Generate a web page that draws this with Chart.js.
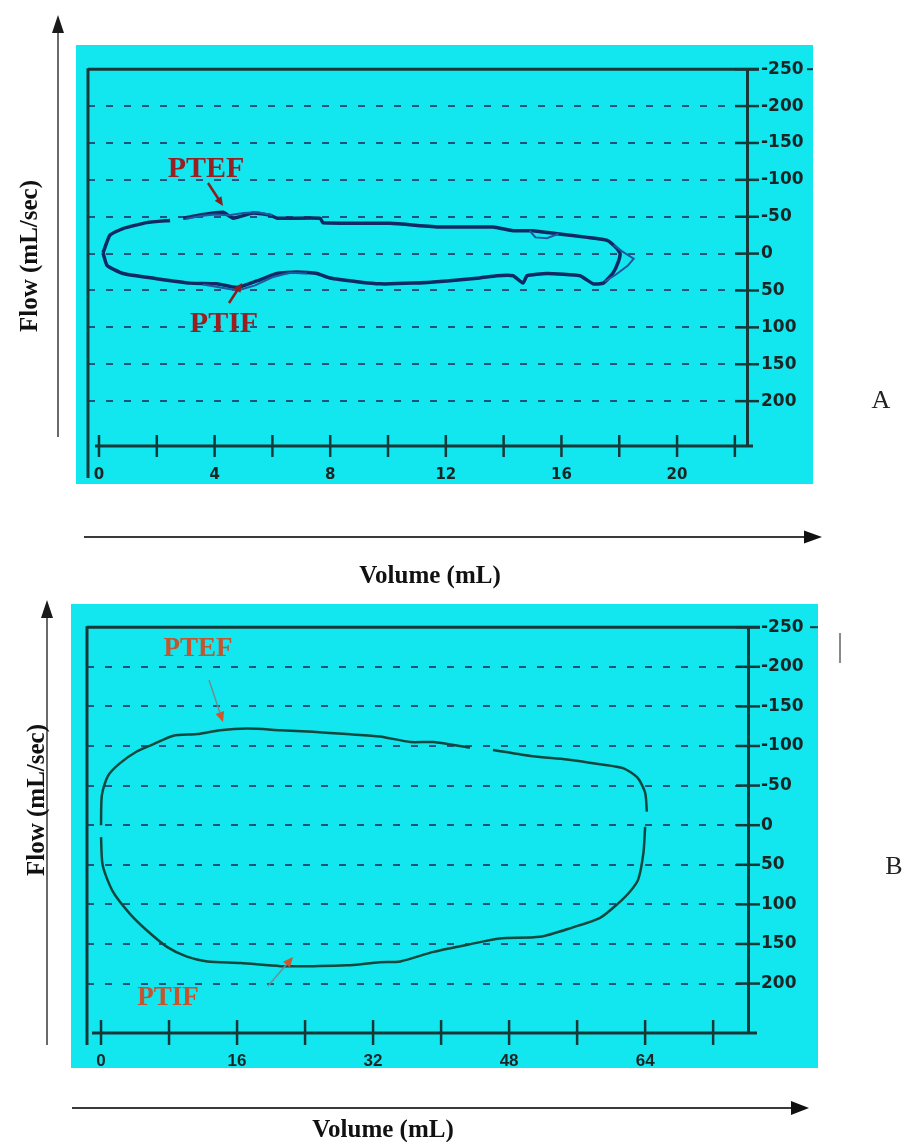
<!DOCTYPE html>
<html>
<head>
<meta charset="utf-8">
<script src="https://cdn.jsdelivr.net/npm/chart.js@4.4.0/dist/chart.umd.min.js"></script>
<style>
html,body{margin:0;padding:0;background:#ffffff;}
body{width:908px;height:1142px;position:relative;overflow:hidden;}
canvas{position:absolute;}
svg{position:absolute;left:0;top:0;}
.t{position:absolute;white-space:nowrap;font-family:'Liberation Serif','Times New Roman',serif;transform:translate(-50%,-50%);line-height:1;}
.title{font-weight:bold;font-size:25px;color:#111;}
.rot{transform:translate(-50%,-50%) rotate(-90deg);}
.annA{font-weight:bold;font-size:30px;color:#9a1f22;}
.annB{font-weight:bold;font-size:27px;color:#c4552f;}
.panel{font-size:26px;color:#222;}
</style>
</head>
<body>
<canvas id="cA" width="737" height="439" style="left:76px;top:45px;width:737px;height:439px"></canvas>
<canvas id="cB" width="747" height="464" style="left:71px;top:604px;width:747px;height:464px"></canvas>
<svg id="ov" width="908" height="1142"></svg>

<div class="t title rot" style="left:28px;top:256px">Flow (mL/sec)</div>
<div class="t title" style="left:430px;top:574px">Volume (mL)</div>
<div class="t title rot" style="left:35px;top:800px">Flow (mL/sec)</div>
<div class="t title" style="left:383px;top:1128px">Volume (mL)</div>

<div class="t annA" style="left:206px;top:167px">PTEF</div>
<div class="t annA" style="left:224px;top:322px">PTIF</div>
<div class="t annB" style="left:198px;top:647px">PTEF</div>
<div class="t annB" style="left:168px;top:996px">PTIF</div>

<div class="t panel" style="left:881px;top:400px">A</div>
<div class="t panel" style="left:894px;top:866px">B</div>

<script>
// ---------- DATA ----------
const flowTicks = [-250, -200, -150, -100, -50, 0, 50, 100, 150, 200];

const volumeTicksA = [0, 2, 4, 6, 8, 10, 12, 14, 16, 18, 20, 22];
const volumeLabelsA = [0, 4, 8, 12, 16, 20];
const volumeTicksB = [0, 8, 16, 24, 32, 40, 48, 56, 64, 72];
const volumeLabelsB = [0, 16, 32, 48, 64];

// Panel A: main tidal loop (expiration on top, shown as negative flow labels)
const loopAVolume = [0.14, 0.38, 0.83, 1.66, 2.46, null, 2.91, 3.6, 4.29, 4.64, 5.33, 5.92, 6.16, 7.65, 7.75, 10.07, 11.8, 13.63, 14.33, 15.0, 15.85, 16.9, 17.58, 17.92, 18.03, 17.96, 17.79, 17.45, 17.1, 16.64, 15.5, 14.81, 14.67, 14.33, 13.77, 13.18, 12.04, 10.87, 9.72, 8.93, 7.99, 7.54, 6.85, 6.16, 5.47, 4.78, 4.08, 3.15, 2.0, 0.83, 0.28, 0.14];
const loopAFlow   = [-1, -25, -34, -42, -45, null, -48, -53, -56, -48, -55, -52, -48, -48, -42, -41, -36, -36, -31, -31, -27, -22, -18, -7, 0, 12, 26, 40, 41, 30, 27, 30, 40, 30, 30, 33, 37, 40, 41, 38, 33, 27, 25, 27, 37, 46, 41, 40, 34, 27, 16, -1];

// Panel A: second (overlapping) breath trace segments
const traceA2Volume = [3.0, 3.5, 4.0, 4.5, 5.0, 5.5, 6.0, null, 3.6, 4.2, 4.8, 5.4, 6.0, 6.6, 7.2, null, 14.9, 15.1, 15.5, 15.9, null, 17.8, 18.1, 18.5, 18.3, 17.9, 17.5];
const traceA2Flow   = [-47, -51, -53, -52, -55, -56, -52, null, 42, 46, 50, 43, 32, 26, 27, null, -31, -22, -21, -27, null, -12, -3, 7, 16, 28, 38];

// Panel B: expiratory limb (left to right) and inspiratory limb (right to left)
const expBVolume = [0, 0.1, 0.8, 2.2, 4.2, 6.1, 8.5, 11.3, 14.0, 17.2, 21.1, 24.9, 28.9, 32.8, 36.4, 39.1, 43.4, null, 46.1, 50.8, 54.8, 58.7, 61.4, 63.1, 64.0, 64.2];
const expBFlow   = [0, -38, -62, -78, -93, -102, -113, -115, -120, -122, -120, -118, -115, -112, -105, -105, -98, null, -95, -87, -83, -77, -72, -60, -41, -17];
const inspBVolume = [64.0, 63.8, 63.2, 62.2, 60.7, 58.7, 55.5, 51.6, 46.9, 43.1, 39.1, 35.2, 32.8, 28.9, 24.9, 21.1, 16.4, 12.5, 10.1, 7.8, 5.4, 3.4, 1.4, 0.2, 0];
const inspBFlow   = [2, 35, 68, 84, 100, 117, 129, 141, 143, 151, 160, 172, 173, 177, 178, 178, 174, 172, 166, 154, 133, 112, 84, 51, 15];

// ---------- HELPERS ----------
function pts(xs, ys) {
  return xs.map((v, i) => (v === null || ys[i] === null) ? {x: null, y: null} : {x: v, y: ys[i]});
}
const CYAN = '#12e6ef';
const AXIS = '#173838';

const framePlugin = {
  id: 'frame',
  beforeDraw(chart, args, o) {
    const ctx = chart.ctx;
    ctx.save();
    ctx.fillStyle = CYAN;
    ctx.fillRect(0, 0, chart.width, chart.height);
    ctx.restore();
  },
  afterDraw(chart, args, o) {
    const {ctx, chartArea: a, scales: {x, y}} = chart;
    ctx.save();
    ctx.strokeStyle = AXIS;
    const ln = (x1, y1, x2, y2, w) => { ctx.lineWidth = w; ctx.beginPath(); ctx.moveTo(x1, y1); ctx.lineTo(x2, y2); ctx.stroke(); };
    ln(a.left, a.top - 1, a.left, a.bottom + o.leftExtra, 3);
    ln(a.left, a.top, a.right + o.topExtra, a.top, 3);
    ln(a.right + o.topTail0, a.top, a.right + o.topTail1, a.top, 2);
    ln(a.left + o.xStart, a.bottom, a.right + o.xEnd, a.bottom, 3);
    y.ticks.forEach(t => { const py = y.getPixelForValue(t.value); ln(a.right - o.yIn, py, a.right + o.yOut, py, 2.5); });
    x.ticks.forEach(t => { const px = x.getPixelForValue(t.value); ln(px, a.bottom - o.xUp, px, a.bottom + o.xDown, 2.5); });
    ctx.restore();
  }
};

function makeChart(id, cfg) {
  return new Chart(document.getElementById(id), {
    type: 'scatter',
    data: { datasets: cfg.datasets },
    plugins: [framePlugin],
    options: {
      responsive: false,
      animation: false,
      devicePixelRatio: 1,
      layout: { padding: cfg.padding },
      plugins: { legend: { display: false }, tooltip: { enabled: false }, frame: cfg.frame },
      elements: { point: { radius: 0 } },
      scales: {
        x: {
          type: 'linear', min: cfg.xMin, max: cfg.xMax,
          afterBuildTicks: s => { s.ticks = cfg.xTicks.map(v => ({value: v})); },
          afterFit: s => { s.height = cfg.xHeight; },
          grid: { display: false },
          border: { display: false },
          ticks: {
            autoSkip: false, maxRotation: 0, padding: cfg.xPad, color: '#1a2525',
            font: cfg.xFont,
            callback: v => cfg.xLabels.includes(v) ? String(v) : ''
          }
        },
        y: {
          type: 'linear', position: 'right', reverse: true, min: -250, max: cfg.yMax,
          afterBuildTicks: s => { s.ticks = flowTicks.map(v => ({value: v})); },
          afterFit: s => { s.width = cfg.yWidth; },
          grid: { drawTicks: false, color: '#21527c', lineWidth: 2 },
          border: { display: true, color: AXIS, width: 3, dash: [7, 11] },
          ticks: {
            padding: cfg.yPad, color: '#1a2525',
            font: { family: 'DejaVu Sans', weight: 'bold', size: 17 },
            callback: v => String(v)
          }
        }
      }
    }
  });
}

makeChart('cA', {
  padding: { left: 12, top: 23, right: 0, bottom: 0 },
  xMin: -0.38, xMax: 22.42, yMax: 260.8,
  xTicks: volumeTicksA, xLabels: volumeLabelsA, xHeight: 38, yWidth: 66,
  xPad: 12, yPad: 14,
  xFont: { family: 'DejaVu Sans', weight: 'bold', size: 15 },
  frame: { leftExtra: 32, topExtra: 12, topTail0: 60, topTail1: 66, xStart: 7, xEnd: 6, yIn: 12, yOut: 12, xUp: 11, xDown: 11 },
  datasets: [
    { data: pts(traceA2Volume, traceA2Flow), showLine: true, borderColor: '#1f58a0', borderWidth: 2, spanGaps: false, tension: 0 },
    { data: pts(loopAVolume, loopAFlow), showLine: true, borderColor: '#0f2a62', borderWidth: 3.5, spanGaps: false, tension: 0.15 }
  ]
});

makeChart('cB', {
  padding: { left: 16, top: 15, right: 0, bottom: 0 },
  xMin: -1.65, xMax: 76.1, yMax: 262.4,
  xTicks: volumeTicksB, xLabels: volumeLabelsB, xHeight: 35, yWidth: 70,
  xPad: 10, yPad: 13,
  xFont: { family: 'Liberation Sans', weight: 'bold', size: 17 },
  frame: { leftExtra: 12, topExtra: 12, topTail0: 62, topTail1: 70, xStart: 5, xEnd: 9, yIn: 12, yOut: 12, xUp: 13, xDown: 12 },
  datasets: [
    { data: pts(expBVolume, expBFlow), showLine: true, borderColor: '#11473c', borderWidth: 2.5, spanGaps: false, tension: 0.25 },
    { data: pts(inspBVolume, inspBFlow), showLine: true, borderColor: '#11473c', borderWidth: 2.5, spanGaps: false, tension: 0.25 }
  ]
});

// ---------- ARROWS (decorations) ----------
const ov = document.getElementById('ov');
function arrow(x1, y1, x2, y2, lineColor, headColor, lw, hl, hw) {
  const dx = x2 - x1, dy = y2 - y1, len = Math.hypot(dx, dy);
  const ux = dx / len, uy = dy / len;
  const bx = x2 - ux * hl, by = y2 - uy * hl;
  const px = -uy * hw / 2, py = ux * hw / 2;
  const ns = 'http://www.w3.org/2000/svg';
  const l = document.createElementNS(ns, 'line');
  l.setAttribute('x1', x1); l.setAttribute('y1', y1); l.setAttribute('x2', bx + ux * 1); l.setAttribute('y2', by + uy * 1);
  l.setAttribute('stroke', lineColor); l.setAttribute('stroke-width', lw);
  ov.appendChild(l);
  const p = document.createElementNS(ns, 'polygon');
  p.setAttribute('points', `${x2},${y2} ${bx + px},${by + py} ${bx - px},${by - py}`);
  p.setAttribute('fill', headColor);
  ov.appendChild(p);
}
arrow(58, 437, 58, 15, '#5a5a5a', '#1a1a1a', 1.8, 18, 12);
arrow(84, 537, 822, 537, '#3a3a3a', '#111', 2, 18, 13);
arrow(47, 1045, 47, 600, '#5a5a5a', '#1a1a1a', 1.8, 18, 12);
arrow(72, 1108, 809, 1108, '#3a3a3a', '#111', 2, 18, 14);
arrow(208, 183, 223, 206, '#8c1d1d', '#8c1d1d', 2.5, 9, 8);
arrow(229, 303, 242, 283, '#8c1d1d', '#8c1d1d', 2.5, 9, 8);
arrow(209, 680, 223, 722, '#6f8f8f', '#d0562c', 1.5, 10, 9);
arrow(268, 986, 293, 957, '#6f8f8f', '#d0562c', 1.5, 10, 9);
(function () {
  const l = document.createElementNS('http://www.w3.org/2000/svg', 'line');
  l.setAttribute('x1', 840); l.setAttribute('y1', 633); l.setAttribute('x2', 840); l.setAttribute('y2', 663);
  l.setAttribute('stroke', '#8a8a8a'); l.setAttribute('stroke-width', 2);
  ov.appendChild(l);
})();
</script>
</body>
</html>
